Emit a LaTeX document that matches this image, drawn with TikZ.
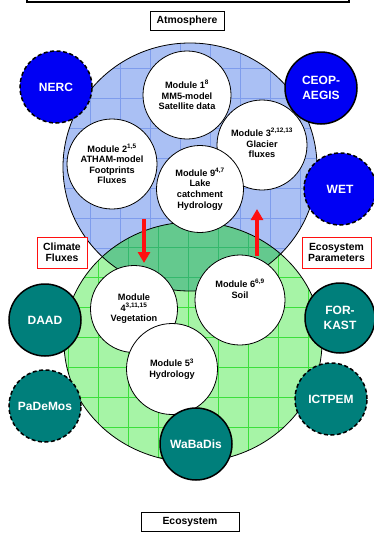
\documentclass[tikz,border=0pt]{standalone}
\usepackage{fontspec}
\setmainfont{Liberation Sans}
\usetikzlibrary{arrows.meta,positioning}
\definecolor{wsSky}{HTML}{AAC0F4}
\definecolor{wsSkyGrid}{HTML}{7E9CEC}
\definecolor{wsLeaf}{HTML}{A6F4A6}
\definecolor{wsLeafGrid}{HTML}{3CE03C}
\definecolor{wsLens}{HTML}{64C98E}
\definecolor{wsLensGrid}{HTML}{34B86C}
\definecolor{wsBlue}{HTML}{0000F4}
\definecolor{wsTeal}{HTML}{007F7B}
\definecolor{wsRed}{HTML}{FF1010}
\tikzset{
  ws rim/.style={draw=black, line width=.8pt},
  ws grid/.style={line width=.6pt},
  ws module/.style={circle, draw=black, fill=white, line width=.8pt,
    inner sep=0pt, align=center, font=\bfseries\fontsize{9.2}{10.6}\selectfont},
  ws text/.style={align=center, inner sep=0pt, font=\bfseries\fontsize{9.2}{10.6}\selectfont},
  ws partner/.style={circle, draw=black, line width=1.5pt, inner sep=0pt,
    minimum size=72pt, text=white, align=center,
    font=\bfseries\fontsize{12}{15}\selectfont},
  ws pending/.style={ws partner, dash pattern=on 4pt off 2.5pt},
  ws tag/.style={draw=black, fill=white, line width=.9pt, inner sep=0pt,
    font=\bfseries\fontsize{10.4}{11.5}\selectfont},
  ws flag/.style={draw=wsRed, fill=white, line width=.9pt, inner sep=0pt,
    align=center, font=\bfseries\fontsize{10.4}{11.5}\selectfont},
  ws flow/.style={draw=wsRed, line width=4pt, -{Triangle[length=11pt,width=12pt]}}
}

\begin{document}
\begin{tikzpicture}[x=1pt,y=-1pt]
  \useasboundingbox (0,0) rectangle (374,541);
  \clip (0,0) rectangle (374,541);
  \draw[line width=1.2pt] (27,-10) rectangle (349,2);

  % atmosphere and ecosystem spheres
  \fill[wsSky] (190,167) ellipse [x radius=127, y radius=124];
  \begin{scope}
    \clip (190,167) ellipse [x radius=127, y radius=124];
    \foreach \g in {0,30,...,360} \draw[wsSkyGrid, ws grid] (\g,0) -- (\g,541);
    \foreach \g in {8,38,...,518} \draw[wsSkyGrid, ws grid] (0,\g) -- (374,\g);
  \end{scope}
  \fill[wsLeaf] (193,342) ellipse [x radius=129, y radius=120];
  \begin{scope}
    \clip (193,342) ellipse [x radius=129, y radius=120];
    \foreach \g in {8,38,...,368} \draw[wsLeafGrid, ws grid] (\g,0) -- (\g,541);
    \foreach \g in {7,37,...,517} \draw[wsLeafGrid, ws grid] (0,\g) -- (374,\g);
    \clip (190,167) ellipse [x radius=127, y radius=124];
    \fill[wsLens] (0,0) rectangle (374,541);
    \foreach \g in {8,38,...,368} \draw[wsLensGrid, ws grid] (\g,0) -- (\g,541);
    \foreach \g in {7,37,...,517} \draw[wsLensGrid, ws grid] (0,\g) -- (374,\g);
  \end{scope}
  \draw[ws rim] (190,167) ellipse [x radius=127, y radius=124];
  \draw[ws rim] (193,342) ellipse [x radius=129, y radius=120];

  % modules
  \node[ws module, minimum size=88pt] (m1) at (187,95)
    {Module 1\textsuperscript{8}\\MM5-model\\Satellite data};
  \node[ws module, minimum size=90pt] (m2) at (112,164)
    {Module 2\textsuperscript{1,5}\\ATHAM-model\\Footprints\\Fluxes};
  \node[ws module, minimum size=90pt] (m3) at (262,145) {};
  \node[ws text] (m3txt) at (262,143)
    {Module 3\textsuperscript{2,12,13}\\Glacier\\fluxes};
  \node[ws module, minimum size=87pt] (m9) at (200,189)
    {Module 9\textsuperscript{4,7}\\Lake\\catchment\\Hydrology};
  \node[ws module, minimum size=87pt] (m4) at (134,309)
    {Module\\4\textsuperscript{3,11,15}\\Vegetation};
  \node[ws module, minimum size=90pt] (m6) at (240,300) {};
  \node[ws text] (m6txt) at (240,289) {Module 6\textsuperscript{6,9}\\Soil};
  \node[ws module, minimum size=91pt] (m5) at (172,369)
    {Module 5\textsuperscript{3}\\Hydrology};

  % partners
  \node[ws pending, fill=wsBlue] (nerc) at (56,87) {NERC};
  \node[ws partner, fill=wsBlue] (ceop) at (321,88) {CEOP-\\AEGIS};
  \node[ws pending, fill=wsBlue] (wet) at (340,189) {WET};
  \node[ws partner, fill=wsTeal] (daad) at (45,320) {DAAD};
  \node[ws partner, fill=wsTeal, minimum size=70pt] (forkast) at (340,318) {FOR-\\KAST};
  \node[ws pending, fill=wsTeal] (pademos) at (45,406) {PaDeMos};
  \node[ws pending, fill=wsTeal] (ictpem) at (331,399) {ICTPEM};
  \node[ws partner, fill=wsTeal] (wabadis) at (196,444) {WaBaDis};

  % exchanges
  \coordinate (fluxTop) at (144,219);
  \coordinate (fluxTip) at (144,263);
  \coordinate (paramBot) at (257,256);
  \coordinate (paramTip) at (257,209);
  \draw[ws flow] (fluxTop) -- (fluxTip);
  \draw[ws flow] (paramBot) -- (paramTip);

  % tags
  \node[ws tag, minimum width=74pt, minimum height=19pt] (atmo) at (187,20.5) {Atmosphere};
  \node[ws tag, minimum width=98pt, minimum height=19pt] (eco) at (190,521.5) {Ecosystem};
  \node[ws flag, minimum width=50pt, minimum height=31pt] (climate) at (62,252.5)
    {Climate\\Fluxes};
  \node[ws flag, minimum width=69pt, minimum height=31pt] (params) at (336.5,252.5)
    {Ecosystem\\Parameters};
\end{tikzpicture}
\end{document}
